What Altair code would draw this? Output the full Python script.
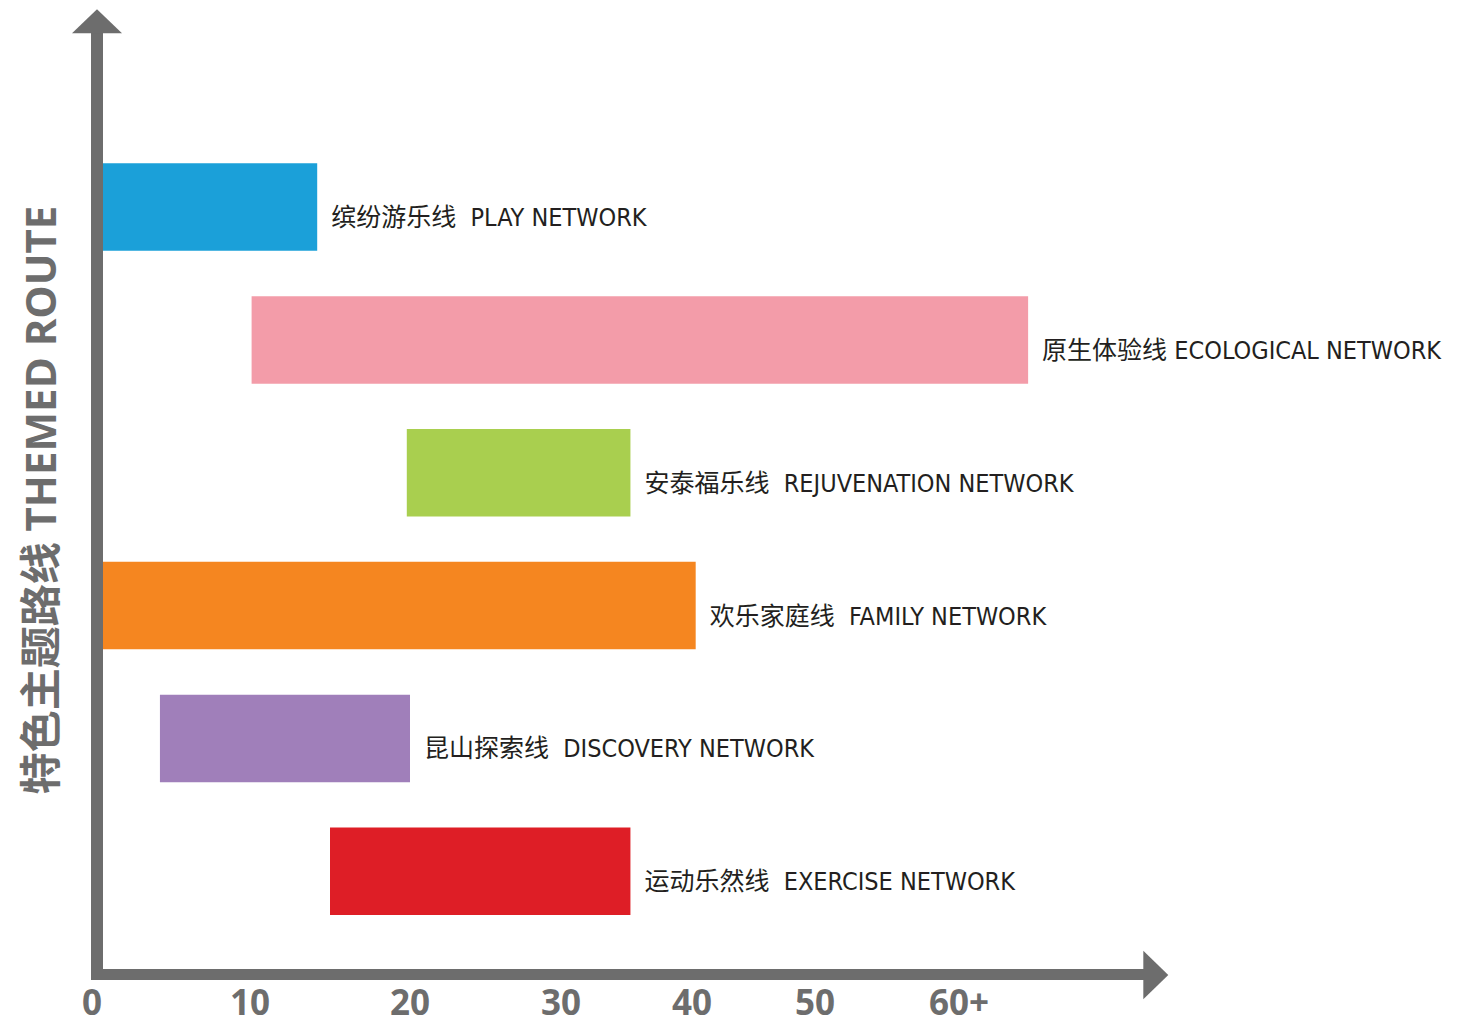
import altair as alt
import pandas as pd

# ---- data ----
routes = ["PLAY", "ECOLOGICAL", "REJUVENATION", "FAMILY", "DISCOVERY", "EXERCISE"]
labels = [
    "缤纷游乐线\u00a0 PLAY NETWORK",
    "原生体验线 ECOLOGICAL NETWORK",
    "安泰福乐线\u00a0 REJUVENATION NETWORK",
    "欢乐家庭线\u00a0 FAMILY NETWORK",
    "昆山探索线\u00a0 DISCOVERY NETWORK",
    "运动乐然线\u00a0 EXERCISE NETWORK",
]
age_start = [0, 10.1, 19.8, 0, 4.3, 15.0]
age_end = [14.2, 64.8, 35.3, 40.3, 20.0, 35.3]
colors = ["#1ba0d9", "#f39ca9", "#a9cf4f", "#f58620", "#a07fba", "#de1e26"]

tick_values = [0, 10, 20, 30, 40, 50, 60]
tick_labels = ["0", "10", "20", "30", "40", "50", "60+"]

y_title = "特色主题路线 THEMED ROUTE"

# ---- styles ----
GRAY = "#6d6d6d"
TXT = "#231f20"
LABEL_FONT = "Liberation Sans Narrow, DejaVu Sans Condensed, Noto Sans CJK SC, sans-serif"
BOLD_FONT = "Open Sans, Noto Sans CJK SC, sans-serif"

bars_df = pd.DataFrame({
    "route": routes, "label": labels, "start": age_start,
    "end": age_end, "color": colors,
})
ticks_df = pd.DataFrame({"v": tick_values, "t": tick_labels})

# piecewise x scale (the axis labels in the original are unevenly spaced)
xscale = alt.Scale(domain=tick_values,
                   range=[84, 242, 402, 553, 684, 807, 951],
                   nice=False, zero=False)
yscale = alt.Scale(domain=routes, range=[155.3, 907],
                   paddingInner=0.341, paddingOuter=0)

base = alt.Chart(bars_df)

bars = base.mark_bar(cornerRadius=0).encode(
    x=alt.X("start:Q", scale=xscale, axis=None),
    x2="end:Q",
    y=alt.Y("route:N", scale=yscale, axis=None, sort=routes),
    color=alt.Color("color:N", scale=None),
)

texts = base.mark_text(align="left", baseline="middle", dx=14, dy=11,
                       font=LABEL_FONT, fontSize=25, color=TXT).encode(
    x=alt.X("end:Q", scale=xscale, axis=None),
    y=alt.Y("route:N", scale=yscale, axis=None, sort=routes),
    text="label:N",
)

one = alt.Data(values=[{"k": 1}])

vline = alt.Chart(one).mark_rule(color=GRAY, strokeWidth=12, strokeCap="butt").encode(
    x=alt.value(89), y=alt.value(13), y2=alt.value(972))
hline = alt.Chart(one).mark_rule(color=GRAY, strokeWidth=11, strokeCap="butt").encode(
    x=alt.value(83), x2=alt.value(1142), y=alt.value(966.5))

up_arrow = alt.Chart(one).mark_point(
    shape="M0,-0.48L1,0.48L-1,0.48Z", filled=True, opacity=1,
    color=GRAY, strokeWidth=0, size=2500).encode(
    x=alt.value(89), y=alt.value(13.3))
right_arrow = alt.Chart(one).mark_point(
    shape="M0.514,0L-0.514,-1L-0.514,1Z", filled=True, opacity=1,
    color=GRAY, strokeWidth=0, size=2362).encode(
    x=alt.value(1147.8), y=alt.value(967))

tick_text = alt.Chart(ticks_df).mark_text(
    align="center", baseline="alphabetic", font=BOLD_FONT,
    fontSize=35, fontWeight="bold", color=GRAY).encode(
    x=alt.X("v:Q", scale=xscale, axis=None),
    y=alt.value(1007),
    text="t:N",
)

title = alt.Chart(alt.Data(values=[{"t": y_title}])).mark_text(
    align="center", baseline="middle", angle=270, font=BOLD_FONT,
    fontSize=42, fontWeight="bold", color=GRAY).encode(
    x=alt.value(35), y=alt.value(492), text="t:N")

chart = alt.layer(bars, texts, vline, hline, up_arrow, right_arrow,
                  tick_text, title).properties(
    width=1442, height=1016,
    autosize=alt.AutoSizeParams(type="none"),
    padding=0,
).configure_view(stroke=None)

chart.save("out.html", embed_options={"renderer": "svg", "actions": False})
